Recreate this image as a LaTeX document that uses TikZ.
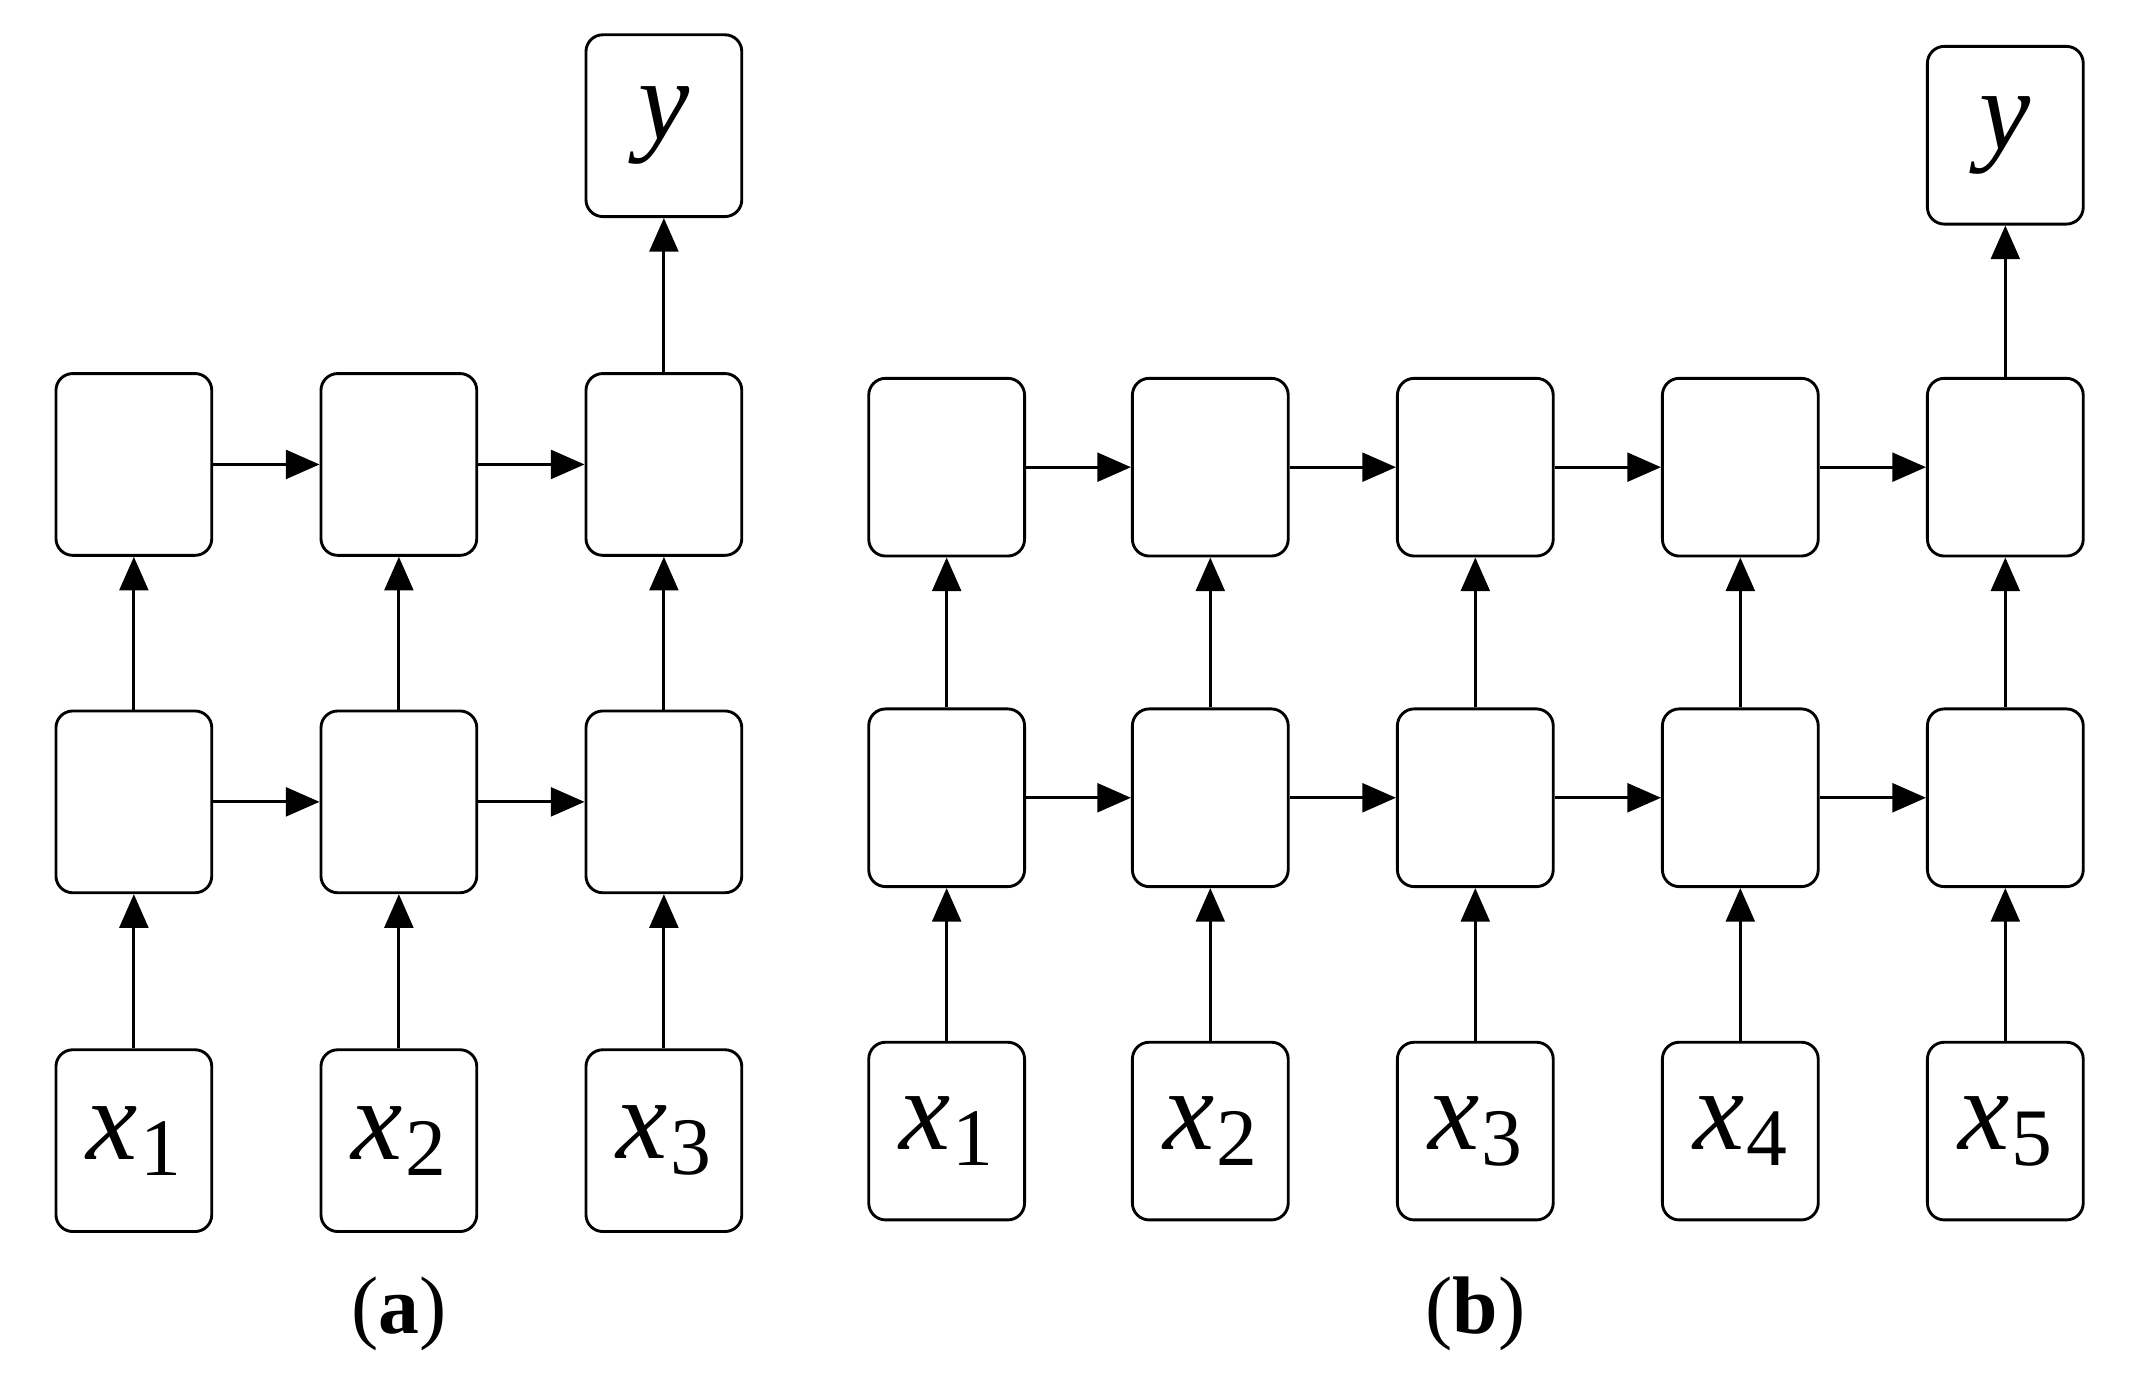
\documentclass[tikz,border=0pt]{standalone}
\usepackage{fontspec}
\setmainfont{Liberation Serif}
\usetikzlibrary{arrows.meta}
\newcommand{\xs}[1]{\textit{x}\kern0.02em\raisebox{-0.3ex}{\fontsize{17}{19}\selectfont #1}}
\begin{document}
\begin{tikzpicture}[x=0.01cm,y=-0.01cm,
 bx/.style={draw,line width=0.6pt,rounded corners=3.5pt,minimum width=1.14cm,inner sep=0pt},
 ar/.style={line width=0.6pt,-{Triangle[length=7pt,width=6pt]}},
 lab/.style={font=\fontsize{24}{26}\selectfont}]
\useasboundingbox (0,0) rectangle (1560,1006);
% panel a
\foreach \i/\x in {1/98,2/292,3/486}{
 \node[bx,minimum height=1.33cm] (at\i) at (\x,340) {};
 \node[bx,minimum height=1.33cm] (am\i) at (\x,587) {};
 \node[bx,minimum height=1.33cm,lab] (ab\i) at (\x,835) {\xs{\i}};
 \draw[ar] (ab\i) -- (am\i);
 \draw[ar] (am\i) -- (at\i);
}
\node[bx,minimum height=1.33cm,lab] (ay) at (486,92) {\textit{y}};
\draw[ar] (at3) -- (ay);
\foreach \i/\j in {1/2,2/3}{
 \draw[ar] (at\i) -- (at\j);
 \draw[ar] (am\i) -- (am\j);
}
% panel b
\foreach \i/\x in {1/693,2/886,3/1080,4/1274,5/1468}{
 \node[bx,minimum height=1.30cm] (bt\i) at (\x,342) {};
 \node[bx,minimum height=1.30cm] (bm\i) at (\x,584) {};
 \node[bx,minimum height=1.30cm,lab] (bb\i) at (\x,828) {\xs{\i}};
 \draw[ar] (bb\i) -- (bm\i);
 \draw[ar] (bm\i) -- (bt\i);
}
\node[bx,minimum height=1.30cm,lab] (by) at (1468,99) {\textit{y}};
\draw[ar] (bt5) -- (by);
\foreach \i/\j in {1/2,2/3,3/4,4/5}{
 \draw[ar] (bt\i) -- (bt\j);
 \draw[ar] (bm\i) -- (bm\j);
}
\node[font=\fontsize{17}{19}\selectfont] (la) at (292,962) {(\textbf{a})};
\node[font=\fontsize{17}{19}\selectfont] (lb) at (1080,962) {(\textbf{b})};
\end{tikzpicture}
\end{document}
